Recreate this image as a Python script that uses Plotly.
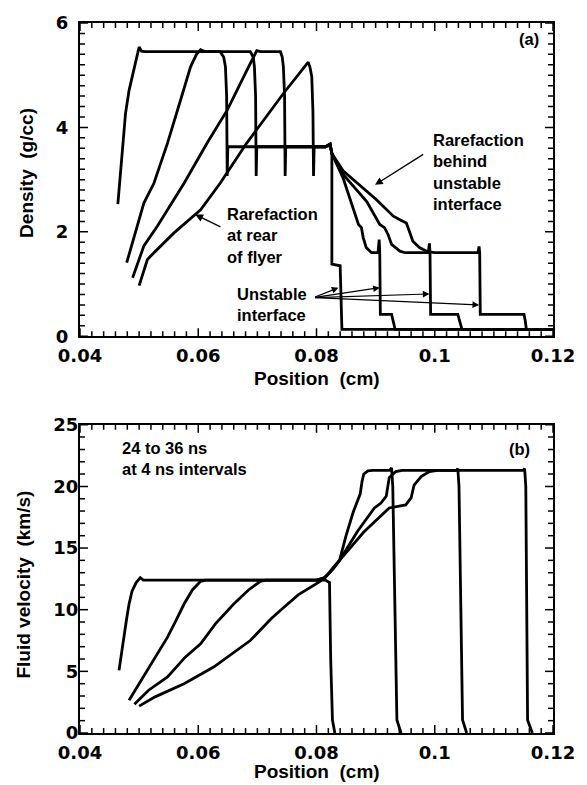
import plotly.graph_objects as go

# ---------------- Panel (a): density (g/cc) at 24, 28, 32, 36 ns ----------------
d1_x = [0.0464, 0.0470, 0.0477, 0.0483, 0.0491, 0.0500, 0.0504, 0.0510, 0.0637, 0.0643, 0.0646,
        0.0648, 0.0649, 0.0650, 0.0815, 0.0823, 0.0826, 0.0826, 0.0840, 0.0843, 0.1200]
d1_y = [2.53, 3.30, 4.27, 4.71, 5.09, 5.54, 5.46, 5.45, 5.45, 5.35, 5.16,
        4.60, 3.07, 3.63, 3.63, 3.66, 3.50, 1.38, 1.35, 0.13, 0.13]

d2_x = [0.0479, 0.0491, 0.0508, 0.0525, 0.0548, 0.0570, 0.0587, 0.0597, 0.0604, 0.0612, 0.0688,
        0.0693, 0.0695, 0.0697, 0.0698, 0.0699, 0.0815, 0.0823, 0.0826, 0.0845, 0.0862, 0.0871,
        0.0876, 0.0879, 0.0884, 0.0893, 0.0904, 0.0906, 0.0907, 0.0908, 0.0927, 0.0930, 0.0933, 0.1200]
d2_y = [1.41, 1.89, 2.55, 2.93, 3.70, 4.52, 5.16, 5.40, 5.49, 5.45, 5.45,
        5.35, 5.16, 4.60, 3.07, 3.63, 3.63, 3.68, 3.50, 3.03, 2.46, 2.14,
        2.08, 1.89, 1.70, 1.60, 1.60, 1.85, 1.60, 0.42, 0.42, 0.30, 0.13, 0.13]

d3_x = [0.0489, 0.0508, 0.0531, 0.0555, 0.0576, 0.0615, 0.0649, 0.0682, 0.0694, 0.0699, 0.0705,
        0.0739, 0.0742, 0.0744, 0.0746, 0.0747, 0.0748, 0.0815, 0.0823, 0.0826, 0.0845, 0.0885,
        0.0907, 0.0915, 0.0921, 0.0927, 0.0941, 0.0950, 0.0989, 0.0991, 0.0992, 0.0993, 0.1039,
        0.1042, 0.1046, 0.1200]
d3_y = [1.12, 1.73, 2.11, 2.55, 2.93, 3.70, 4.33, 5.09, 5.38, 5.47, 5.45,
        5.45, 5.35, 5.16, 4.60, 3.07, 3.63, 3.63, 3.68, 3.50, 3.10, 2.58,
        2.14, 2.08, 1.95, 1.76, 1.63, 1.60, 1.60, 1.78, 1.60, 0.42, 0.42,
        0.30, 0.13, 0.13]

d4_x = [0.0500, 0.0514, 0.0525, 0.0559, 0.0604, 0.0637, 0.0682, 0.0744, 0.0786, 0.0789, 0.0792,
        0.0794, 0.0795, 0.0796, 0.0815, 0.0823, 0.0826, 0.0845, 0.0901, 0.0930, 0.0941, 0.0952,
        0.0957, 0.0963, 0.0974, 0.0988, 0.1000, 0.1073, 0.1075, 0.1076, 0.1077, 0.1151, 0.1153,
        0.1155, 0.1200]
d4_y = [0.97, 1.47, 1.60, 1.98, 2.42, 2.93, 3.70, 4.65, 5.25, 5.15, 4.97,
        4.30, 3.07, 3.63, 3.63, 3.68, 3.50, 3.17, 2.62, 2.30, 2.23, 2.17,
        2.01, 1.82, 1.70, 1.62, 1.60, 1.60, 1.72, 1.60, 0.42, 0.42, 0.30,
        0.13, 0.13]

# ---------------- Panel (b): fluid velocity (km/s) ----------------
v1_x = [0.0466, 0.0470, 0.0474, 0.0479, 0.0483, 0.0488, 0.0495, 0.0502, 0.0507, 0.0815, 0.0822,
        0.0824, 0.0827, 0.0831]
v1_y = [5.08, 6.50, 7.77, 9.30, 10.46, 11.50, 12.20, 12.60, 12.40, 12.40, 12.20,
        6.00, 1.05, 0.00]

v2_x = [0.0483, 0.0495, 0.0508, 0.0528, 0.0548, 0.0562, 0.0576, 0.0590, 0.0604, 0.0612, 0.0800,
        0.0814, 0.0828, 0.0839, 0.0850, 0.0862, 0.0868, 0.0874, 0.0877, 0.0880, 0.0887, 0.0895,
        0.0924, 0.0927, 0.0929, 0.0936, 0.0943]
v2_y = [2.66, 3.60, 4.54, 6.10, 7.77, 9.10, 10.46, 11.60, 12.30, 12.40, 12.40,
        12.60, 13.30, 14.00, 16.00, 17.90, 18.60, 19.40, 20.40, 21.00, 21.25, 21.30,
        21.30, 21.50, 20.00, 1.05, 0.00]

v3_x = [0.0492, 0.0516, 0.0548, 0.0578, 0.0604, 0.0629, 0.0660, 0.0685, 0.0705, 0.0715, 0.0800,
        0.0815, 0.0828, 0.0839, 0.0870, 0.0898, 0.0909, 0.0918, 0.0923, 0.0934, 0.0945, 0.1037,
        0.1039, 0.1041, 0.1047, 0.1054]
v3_y = [2.34, 3.47, 4.54, 6.15, 7.23, 8.85, 10.46, 11.60, 12.30, 12.40, 12.40,
        12.60, 13.40, 14.00, 16.40, 18.25, 18.65, 19.20, 20.70, 21.20, 21.30, 21.30,
        21.45, 20.00, 1.05, 0.00]

v4_x = [0.0500, 0.0527, 0.0576, 0.0626, 0.0688, 0.0724, 0.0745, 0.0769, 0.0806, 0.0822, 0.0839,
        0.0880, 0.0923, 0.0951, 0.0960, 0.0965, 0.0977, 0.0991, 0.1005, 0.1150, 0.1152, 0.1154,
        0.1157, 0.1165]
v4_y = [2.18, 2.93, 4.00, 5.35, 7.50, 9.30, 10.20, 11.20, 12.30, 13.00, 14.00,
        16.30, 18.25, 18.50, 19.06, 20.10, 20.80, 21.20, 21.30, 21.30, 21.45, 20.00,
        1.05, 0.00]

# ---------------- tick labels ----------------
x_tick_labels = ["0.04", "0.06", "0.08", "0.1", "0.12"]
density_tick_labels = ["0", "2", "4", "6"]
velocity_tick_labels = ["0", "5", "10", "15", "20", "25"]
x_minor_step = 0.002
density_minor_step = 0.2
velocity_minor_step = 1.0

density_series = [(d1_x, d1_y), (d2_x, d2_y), (d3_x, d3_y), (d4_x, d4_y)]
velocity_series = [(v1_x, v1_y), (v2_x, v2_y), (v3_x, v3_y), (v4_x, v4_y)]

x_range = [0.04, 0.12]
density_range = [0, 6]
velocity_range = [0, 25]

# plot-area sizes in pixels (used only to turn tick lengths in px into axis units)
PLOT_W = 475
PANEL_A_H = 315
PANEL_B_H = 310
MAJOR_LEN = 8
MINOR_LEN = 5

TXT = "Liberation Sans"
TICKF = "DejaVu Sans"

fig = go.Figure()
for xs, ys in density_series:
    fig.add_trace(go.Scatter(x=xs, y=ys, mode="lines", xaxis="x", yaxis="y",
                             line=dict(color="black", width=2.8), showlegend=False,
                             hoverinfo="skip"))
for xs, ys in velocity_series:
    fig.add_trace(go.Scatter(x=xs, y=ys, mode="lines", xaxis="x2", yaxis="y2",
                             line=dict(color="black", width=2.8), showlegend=False,
                             hoverinfo="skip"))

x_vals = [float(s) for s in x_tick_labels]
d_vals = [float(s) for s in density_tick_labels]
v_vals = [float(s) for s in velocity_tick_labels]


def steps(rng, step):
    n = int(round((rng[1] - rng[0]) / step))
    return [round(rng[0] + i * step, 6) for i in range(n + 1)]


def add_tick_lines(xa, ya, xr, yr, plot_h, xmaj, xmin_step, ymaj, ymin_step):
    """Inward tick marks on all four sides of a panel, as short line segments."""
    px_x = (xr[1] - xr[0]) / PLOT_W
    px_y = (yr[1] - yr[0]) / plot_h
    xs, ys = [], []
    for v in steps(xr, xmin_step):
        ln = (MAJOR_LEN if any(abs(v - m) < 1e-9 for m in xmaj) else MINOR_LEN) * px_y
        xs += [v, v, None, v, v, None]
        ys += [yr[0], yr[0] + ln, None, yr[1], yr[1] - ln, None]
    for v in steps(yr, ymin_step):
        ln = (MAJOR_LEN if any(abs(v - m) < 1e-9 for m in ymaj) else MINOR_LEN) * px_x
        xs += [xr[0], xr[0] + ln, None, xr[1], xr[1] - ln, None]
        ys += [v, v, None, v, v, None]
    fig.add_trace(go.Scatter(x=xs, y=ys, mode="lines", xaxis=xa, yaxis=ya,
                             line=dict(color="black", width=1.5), connectgaps=False,
                             showlegend=False, hoverinfo="skip"))


add_tick_lines("x", "y", x_range, density_range, PANEL_A_H, x_vals, x_minor_step,
               d_vals, density_minor_step)
add_tick_lines("x2", "y2", x_range, velocity_range, PANEL_B_H, x_vals, x_minor_step,
               v_vals, velocity_minor_step)


def axis_style(rng, labels, vals, anchor, domain=None, standoff=0):
    d = dict(range=rng, tickmode="array", tickvals=vals, ticktext=labels, anchor=anchor,
             showgrid=False, zeroline=False, showline=True, linecolor="black", linewidth=2,
             mirror=True, ticks="", ticklabelstandoff=standoff, fixedrange=True,
             tickfont=dict(family=TICKF, size=18, color="black", weight="bold"))
    if domain is not None:
        d["domain"] = domain
    return d


fig.update_layout(
    width=587, height=785,
    margin=dict(l=80, r=32, t=19, b=52),
    paper_bgcolor="white", plot_bgcolor="white",
    xaxis=axis_style(x_range, x_tick_labels, x_vals, "y", standoff=2),
    yaxis=axis_style(density_range, density_tick_labels, d_vals, "x", [0.5588, 1.0], 6),
    xaxis2=axis_style(x_range, x_tick_labels, x_vals, "y2", standoff=2),
    yaxis2=axis_style(velocity_range, velocity_tick_labels, v_vals, "x2", [0.0, 0.4342], -4),
)

tf = dict(family=TXT, size=16.5, color="black", weight="bold")
title_f = dict(family=TXT, size=19, color="black", weight="bold")

ann = []
# axis titles
ann.append(dict(text="Density\u00a0 (g/cc)", xref="paper", yref="paper", x=-0.1147, y=0.7885,
                textangle=-90, showarrow=False, font=title_f, xanchor="center", yanchor="middle"))
ann.append(dict(text="Position\u00a0 (cm)", xref="paper", yref="paper", x=0.5, y=0.4986,
                showarrow=False, font=title_f, xanchor="center", yanchor="middle"))
ann.append(dict(text="Fluid velocity\u00a0 (km/s)", xref="paper", yref="paper", x=-0.119, y=0.2087,
                textangle=-90, showarrow=False, font=title_f, xanchor="center", yanchor="middle"))
ann.append(dict(text="Position\u00a0 (cm)", xref="paper", yref="paper", x=0.5, y=-0.054,
                showarrow=False, font=title_f, xanchor="center", yanchor="middle"))

# panel (a) texts
ann.append(dict(text="(a)", xref="x", yref="y", x=0.1160, y=5.70, showarrow=False, font=tf,
                xanchor="center", yanchor="middle"))
ann.append(dict(text="Rarefaction<br>behind<br>unstable<br>interface", xref="x", yref="y",
                x=0.0994, y=3.97, showarrow=False, font=tf, align="left",
                xanchor="left", yanchor="top"))
ann.append(dict(text="", xref="x", yref="y", axref="x", ayref="y", x=0.0899, y=2.90,
                ax=0.0983, ay=3.50, showarrow=True, arrowhead=2, arrowsize=1.1, arrowwidth=1.4,
                arrowcolor="black"))
ann.append(dict(text="Rarefaction<br>at rear<br>of flyer", xref="x", yref="y",
                x=0.0645, y=2.55, showarrow=False, font=tf, align="left",
                xanchor="left", yanchor="top"))
ann.append(dict(text="", xref="x", yref="y", axref="x", ayref="y", x=0.0595, y=2.33,
                ax=0.0640, ay=2.08, showarrow=True, arrowhead=2, arrowsize=1.1, arrowwidth=1.4,
                arrowcolor="black"))
ann.append(dict(text="Unstable<br>interface", xref="x", yref="y",
                x=0.0662, y=1.02, showarrow=False, font=tf, align="left",
                xanchor="left", yanchor="top"))
unstable_heads = [(0.0837, 0.93), (0.0907, 0.93), (0.0991, 0.81), (0.1075, 0.60)]
for hx, hy in unstable_heads:
    ann.append(dict(text="", xref="x", yref="y", axref="x", ayref="y", x=hx, y=hy,
                    ax=0.0795, ay=0.74, showarrow=True, arrowhead=2, arrowsize=1.1,
                    arrowwidth=1.2, arrowcolor="black"))

# panel (b) texts
ann.append(dict(text="(b)", xref="x2", yref="y2", x=0.1144, y=23.06, showarrow=False, font=tf,
                xanchor="center", yanchor="middle"))
ann.append(dict(text="24 to 36 ns<br>at 4 ns intervals", xref="x2", yref="y2",
                x=0.0468, y=24.0, showarrow=False, font=tf, align="left",
                xanchor="left", yanchor="top"))

fig.update_layout(annotations=ann)
fig.write_html("out.html")
